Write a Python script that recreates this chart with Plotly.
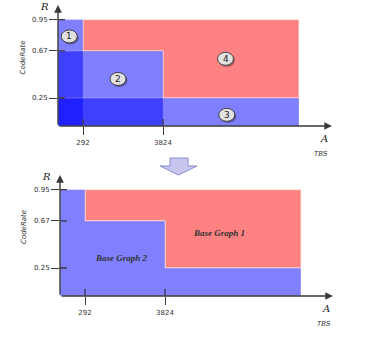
import plotly.graph_objects as go

# ---------------- data ----------------
tbs_labels = ["292", "3824"]          # TBS break points (tick labels)
tbs_axis_pos = [1.0, 4.2]             # schematic position of the breaks on the TBS axis
tbs_end = 9.64                        # schematic right end of the regions
rate_levels = [0.95, 0.67, 0.25]      # code-rate break points
rate_labels = ["0.95", "0.67", "0.25"]

region_ids = ["1", "2", "3", "4"]
region_x = [0.45, 2.4, 6.75, 6.7]
region_y = [0.80, 0.42, 0.10, 0.60]

bg_names = ["Base Graph 2", "Base Graph 1"]
bg_x = [2.45, 6.35]
bg_y = [0.34, 0.565]

W, H = 376, 346
BLUE_T = "rgba(0,0,255,0.5)"
BLUE = "#8080ff"
RED = "#ff8282"
AX = "#3a3a3a"
TXT = "#333333"

fig = go.Figure()


def px(x):
    return x / W


def py(y):
    return 1 - y / H


# ---- axes layout ----
XRANGE = [0, 11.2]
YRANGE = [0, 1.1]
layout_axes = dict(
    xaxis=dict(domain=[px(58), px(338)], anchor="y"),
    yaxis=dict(domain=[py(126), py(2.8)], anchor="x"),
    xaxis2=dict(domain=[px(60), px(340)], anchor="y2"),
    yaxis2=dict(domain=[py(296), py(172.8)], anchor="x2"),
)
for k, v in layout_axes.items():
    if k.startswith("x"):
        v.update(range=XRANGE, tickvals=tbs_axis_pos, ticktext=tbs_labels, ticklabelstandoff=2)
    else:
        v.update(range=YRANGE, tickvals=rate_levels, ticktext=rate_labels)
    v.update(showgrid=False, zeroline=False, showline=False, ticks="outside",
             ticklen=8, tickwidth=1.3, tickcolor=AX, fixedrange=True,
             tickfont=dict(family="DejaVu Sans", size=7, color=TXT))
fig.update_layout(**layout_axes)

xr = [tbs_axis_pos[0], tbs_axis_pos[1], tbs_end]


def red_poly():
    xs = [xr[0], xr[2], xr[2], xr[1], xr[1], xr[0], xr[0]]
    ys = [rate_levels[0], rate_levels[0], rate_levels[2], rate_levels[2],
          rate_levels[1], rate_levels[1], rate_levels[0]]
    return xs, ys


# ---------- top chart ----------
rx, ry = red_poly()
fig.add_trace(go.Scatter(x=rx, y=ry, fill="toself", fillcolor=RED, mode="lines",
                         line=dict(color="rgba(255,235,235,0.9)", width=1),
                         xaxis="x", yaxis="y", hoverinfo="skip"))
for xe, ye in zip(xr, rate_levels):
    fig.add_trace(go.Scatter(x=[0, xe, xe, 0, 0], y=[0, 0, ye, ye, 0], fill="toself",
                             fillcolor=BLUE_T, mode="lines",
                             line=dict(color="rgba(255,255,255,0.35)", width=0.8),
                             xaxis="x", yaxis="y", hoverinfo="skip"))

# ---------- bottom chart ----------
fig.add_trace(go.Scatter(x=rx, y=ry, fill="toself", fillcolor=RED, mode="lines",
                         line=dict(color="rgba(255,235,235,0.9)", width=1),
                         xaxis="x2", yaxis="y2", hoverinfo="skip"))
bx = [0, 0, xr[0], xr[0], xr[1], xr[1], xr[2], xr[2], 0]
by = [0, rate_levels[0], rate_levels[0], rate_levels[1], rate_levels[1],
      rate_levels[2], rate_levels[2], 0, 0]
fig.add_trace(go.Scatter(x=bx, y=by, fill="toself", fillcolor=BLUE, mode="lines",
                         line=dict(color="rgba(255,255,255,0.5)", width=0.8),
                         xaxis="x2", yaxis="y2", hoverinfo="skip"))

shapes = []
annotations = []

# ---- axis arrows and inner tick halves ----
for xa, ya, xtip, ytip in [("x", "y", 10.96, 1.08), ("x2", "y2", 10.92, 1.08)]:
    for (x, y) in [(xtip, 0), (0, ytip)]:
        annotations.append(dict(x=x, y=y, ax=0, ay=0, xref=xa, yref=ya, axref=xa, ayref=ya,
                                text="", showarrow=True, arrowhead=2, arrowsize=1.1,
                                arrowwidth=1.4, arrowcolor=AX))
    for xv in tbs_axis_pos:
        shapes.append(dict(type="line", xref=xa, yref=ya, ysizemode="pixel", yanchor=0,
                           x0=xv, x1=xv, y0=0, y1=7, line=dict(color=AX, width=1.3)))
    for yv in rate_levels:
        shapes.append(dict(type="line", xref=xa, yref=ya, xsizemode="pixel", xanchor=0,
                           x0=0, x1=7, y0=yv, y1=yv, line=dict(color=AX, width=1.3)))

# ---- region number badges ----
for t, xv, yv in zip(region_ids, region_x, region_y):
    shapes.append(dict(type="circle", xref="x", yref="y", xsizemode="pixel", ysizemode="pixel",
                       xanchor=xv, yanchor=yv, x0=-7, x1=9.5, y0=-8, y1=5,
                       fillcolor="rgba(40,40,40,0.45)", line=dict(width=0)))
    shapes.append(dict(type="circle", xref="x", yref="y", xsizemode="pixel", ysizemode="pixel",
                       xanchor=xv, yanchor=yv, x0=-8, x1=8, y0=-6.5, y1=6.5,
                       fillcolor="#e2e2e2", line=dict(color="#404040", width=1)))
    annotations.append(dict(x=xv, y=yv, xref="x", yref="y", text=t,
                            xanchor="center", yanchor="middle",
                            showarrow=False, font=dict(family="DejaVu Sans", size=9, color="#222")))

# ---- base graph labels ----
for t, xv, yv in zip(bg_names, bg_x, bg_y):
    annotations.append(dict(x=xv, y=yv, xref="x2", yref="y2", text="<b><i>" + t + "</i></b>",
                            xanchor="center", yanchor="middle",
                            showarrow=False, font=dict(family="Liberation Serif", size=9, color="#333")))

# ---- axis titles (paper coords, explicitly centred) ----
for (rx0, ry0), (ax0, ay0), (tx0, ty0), (cx0, cy0) in [
        ((44, 6.5), (323.5, 138.5), (321, 153.5), (22.5, 58)),
        ((46, 176.5), (326, 308), (323.5, 323.5), (23.5, 227.5))]:
    common = dict(xref="paper", yref="paper", xanchor="center", yanchor="middle", showarrow=False)
    annotations.append(dict(x=px(rx0), y=py(ry0), text="<i>R</i>",
                            font=dict(family="DejaVu Serif", size=10, color="#222"), **common))
    annotations.append(dict(x=px(ax0), y=py(ay0), text="<i>A</i>",
                            font=dict(family="DejaVu Serif", size=10, color="#222"), **common))
    annotations.append(dict(x=px(tx0), y=py(ty0), text="<i>TBS</i>",
                            font=dict(family="DejaVu Sans", size=7, color="#333"), **common))
    annotations.append(dict(x=px(cx0), y=py(cy0), text="<i>CodeRate</i>", textangle=-90,
                            font=dict(family="DejaVu Sans", size=7, color="#333"), **common))

# ---- block arrow between the two charts ----
pts = [(170, 158), (188, 158), (188, 166), (197, 166), (178.5, 175), (160, 166), (170, 166)]
path = "M " + " L ".join(f"{px(x):.5f},{py(y):.5f}" for x, y in pts) + " Z"
shapes.append(dict(type="path", xref="paper", yref="paper", path=path,
                   fillcolor="#c6c6ee", line=dict(color="#8a8ad0", width=1)))

fig.update_layout(width=W, height=H, margin=dict(l=0, r=0, t=0, b=0),
                  paper_bgcolor="white", plot_bgcolor="rgba(0,0,0,0)",
                  showlegend=False, shapes=shapes, annotations=annotations)

fig.write_html("out.html")
